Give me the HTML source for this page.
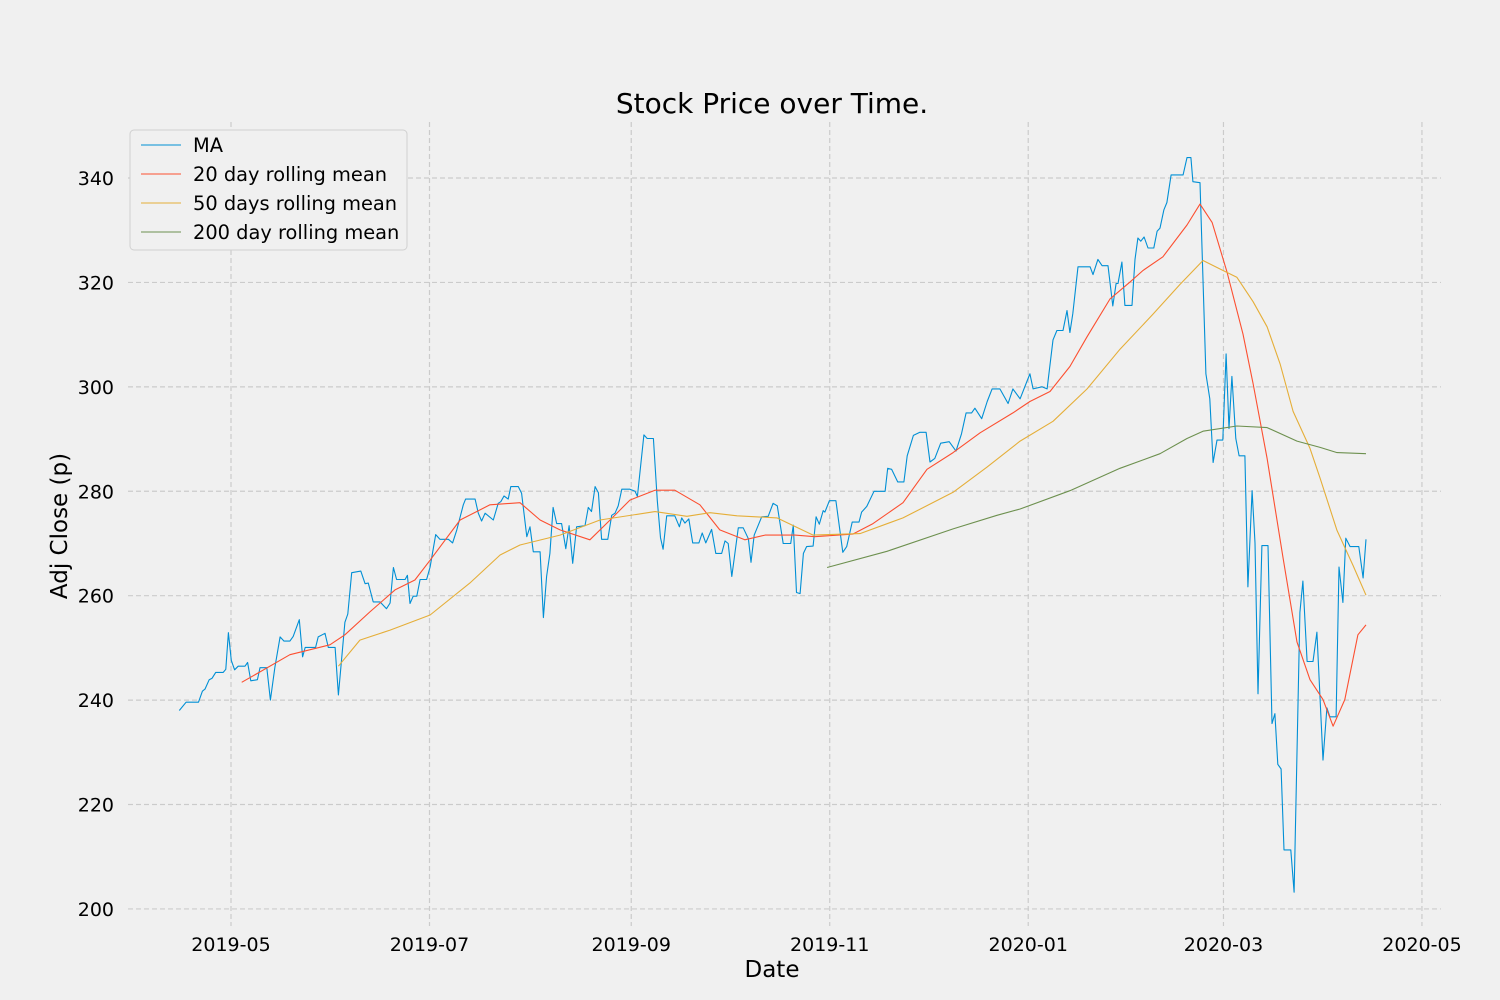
<!DOCTYPE html>
<html><head><meta charset="utf-8"><style>
html,body{margin:0;padding:0;background:#f0f0f0;}
svg{display:block;font-family:"DejaVu Sans","Liberation Sans",sans-serif;}
</style></head><body>
<svg id="chart" width="1500" height="1000" viewBox="0 0 1500 1000" xmlns="http://www.w3.org/2000/svg">
<rect width="1500" height="1000" fill="#f0f0f0"/>
<g id="grid"></g>
<g id="ticks"></g>
<g id="series"></g>
<text x="772" y="113" font-size="28" text-anchor="middle" fill="#000">Stock Price over Time.</text>
<text x="772" y="977" font-size="23" text-anchor="middle" fill="#000">Date</text>
<text x="67" y="526" font-size="23" text-anchor="middle" fill="#000" transform="rotate(-90 67 526)">Adj Close (p)</text>
<g>
<rect x="130" y="130" width="277" height="120" rx="4" fill="#f0f0f0" stroke="#d0d0d0"/>
<g><line x1="141" y1="145" x2="181" y2="145" stroke="#008fd5" stroke-width="1"/><text x="193" y="152" font-size="19.4">MA</text></g>
<g><line x1="141" y1="174" x2="181" y2="174" stroke="#fc4f30" stroke-width="1"/><text x="193" y="181" font-size="19.4">20 day rolling mean</text></g>
<g><line x1="141" y1="203" x2="181" y2="203" stroke="#e5ae38" stroke-width="1"/><text x="193" y="210" font-size="19.4">50 days rolling mean</text></g>
<g><line x1="141" y1="232" x2="181" y2="232" stroke="#6d904f" stroke-width="1"/><text x="193" y="239" font-size="19.4">200 day rolling mean</text></g>
</g>
</svg>
<script>
// days since 2019-05-01
const xTickLabels = ["2019-05","2019-07","2019-09","2019-11","2020-01","2020-03","2020-05"];
const xTickDays = [0,61,123,184,245,305,366];
const yTicks = [200,220,240,260,280,300,320,340];
const maDays = [-15.9,-13.8,-10.0,-8.8,-8.0,-6.7,-5.8,-4.7,-2.4,-1.6,-0.8,0.1,1.1,2.2,4.3,5.1,6.1,8.1,8.9,11.0,12.1,13.5,15.1,16.3,18.1,19.1,21.0,22.0,22.8,26.0,26.8,28.9,29.9,32.0,33.0,35.0,35.9,37.1,39.9,41.2,42.2,43.7,45.8,47.8,48.9,49.9,50.9,53.5,54.2,55.0,56.0,57.1,58.1,60.1,61.2,62.9,64.2,66.8,68.1,69.4,71.4,72.1,75.0,76.0,77.0,78.1,80.6,82.1,82.9,83.9,85.2,86.0,88.3,89.3,90.9,91.9,92.9,95.0,96.0,97.0,98.0,99.0,100.1,101.6,102.9,103.9,105.0,106.2,108.8,109.8,110.8,111.9,112.9,113.9,115.8,117.0,118.0,119.0,120.1,122.6,124.2,124.9,126.9,127.9,129.8,131.0,132.0,132.8,133.9,136.4,137.8,138.5,139.5,140.7,141.9,143.8,144.8,145.9,147.7,149.0,150.8,151.8,152.8,153.9,155.9,157.4,159.0,159.8,160.8,163.1,165.1,166.6,167.9,169.7,172.0,172.8,173.8,174.9,175.9,176.9,178.9,179.8,180.8,182.0,182.5,183.9,185.9,187.2,188.0,189.2,190.9,193.0,193.8,195.4,197.6,201.0,201.8,203.0,204.9,206.8,207.8,209.7,211.7,213.6,214.8,216.3,218.1,220.7,222.8,224.5,225.9,227.6,228.6,230.7,232.4,233.9,236.3,238.8,240.3,242.5,245.5,246.5,249.2,250.8,252.6,253.8,255.7,256.9,257.8,258.7,260.3,264.0,264.9,266.4,267.7,269.5,271.0,272.0,272.6,273.8,274.7,276.9,277.8,278.7,279.6,280.6,281.8,283.6,284.6,285.5,286.7,287.6,288.9,292.6,293.8,295.0,295.6,297.8,299.6,300.8,301.8,303.0,304.8,305.8,306.7,307.6,308.8,309.8,311.6,312.5,313.8,314.7,315.6,316.8,318.7,319.9,320.8,321.7,322.7,323.6,325.7,326.7,328.5,329.4,330.7,332.5,333.7,335.6,336.8,337.7,339.6,340.5,341.7,342.6,343.9,346.6,347.9,348.8];
const maValues = [238.0,239.6,239.6,241.7,242.1,243.9,244.2,245.3,245.3,245.9,252.9,247.6,245.8,246.5,246.5,247.2,243.7,243.9,246.2,246.2,240.0,246.3,252.1,251.3,251.3,252.2,255.4,248.3,250.1,250.1,252.1,252.8,250.1,250.1,241.0,254.9,256.5,264.4,264.7,262.3,262.4,258.8,258.8,257.5,258.6,265.4,263.1,263.1,263.9,258.5,259.9,259.9,263.1,263.1,265.5,271.7,270.8,270.8,270.1,272.6,277.4,278.5,278.5,275.8,274.3,275.8,274.5,277.7,278.0,279.1,278.5,280.9,280.9,279.6,271.3,273.2,268.4,268.4,255.8,263.7,268.1,276.9,273.8,273.8,269.0,273.4,266.2,273.2,273.4,276.9,276.1,280.9,279.7,270.8,270.8,275.4,275.8,277.2,280.4,280.4,280.0,279.0,290.8,290.1,290.1,278.2,271.1,268.9,275.3,275.3,273.2,274.9,273.9,274.7,270.1,270.1,272.0,270.1,272.7,268.1,268.1,270.5,270.0,263.7,273.0,273.0,270.9,266.4,271.6,275.1,275.2,277.7,277.2,270.0,270.0,273.5,260.6,260.4,268.1,269.4,269.5,275.1,273.7,276.3,276.0,278.2,278.2,272.2,268.3,269.4,274.1,274.1,276.0,277.1,280.0,280.0,284.4,284.2,281.8,281.8,286.8,290.7,291.3,291.3,285.6,286.3,289.2,289.5,287.7,291.0,295.0,295.0,295.9,293.9,297.2,299.6,299.6,296.8,299.6,297.7,302.5,299.6,300.0,299.6,309.0,310.8,310.8,314.6,310.4,314.0,323.0,323.0,321.5,324.4,323.2,323.2,315.5,319.8,319.8,323.9,315.6,315.6,324.4,328.5,327.9,328.7,326.6,326.6,329.8,330.4,333.9,335.3,340.6,340.6,343.9,343.9,339.3,339.1,302.5,297.7,285.5,289.8,289.8,306.3,292.0,302.0,290.1,286.8,286.8,261.7,280.1,270.1,241.2,269.6,269.6,235.5,237.4,227.7,226.8,211.3,211.3,203.2,256.8,262.8,247.4,247.4,253.0,228.5,238.5,236.8,236.8,265.5,258.7,271.0,269.4,269.4,263.4,270.8];
const r20Days = [3.3,8.9,18.1,30.4,35.0,42.7,50.4,56.5,61.2,70.4,79.6,88.8,95.0,101.1,110.3,116.5,122.6,130.3,136.4,144.1,150.2,157.9,164.1,173.3,179.4,191.1,197.3,206.5,213.9,221.9,230.2,240.3,245.5,251.7,257.8,263.1,270.1,276.3,280.3,286.4,293.8,297.8,301.5,306.1,311.0,314.1,318.4,323.3,327.6,331.6,335.6,338.7,342.3,346.3,348.8];
const r20Values = [243.4,245.4,248.7,250.6,252.5,256.9,261.1,263.0,266.8,274.5,277.4,277.8,274.5,272.6,270.7,274.5,278.3,280.2,280.2,277.4,272.6,270.7,271.6,271.6,271.3,271.8,273.8,277.8,284.2,287.4,291.2,295.0,297.2,299.1,303.9,309.6,316.8,320.1,322.3,324.9,331.0,335.0,331.5,322.0,310.1,300.6,286.3,267.3,251.1,243.9,240.1,235.0,240.1,252.5,254.4];
const r50Days = [33.0,39.6,48.9,61.2,73.4,82.7,88.8,101.1,113.4,130.3,140.1,147.2,155.5,167.8,178.9,193.3,206.5,221.9,232.3,242.5,252.6,263.1,273.2,283.3,291.6,298.7,304.8,309.1,314.1,318.4,322.4,326.4,331.6,334.7,339.9,344.8,348.8];
const r50Values = [246.5,251.5,253.4,256.3,262.4,267.8,269.7,271.6,274.5,276.1,275.2,275.9,275.3,274.9,271.6,271.9,274.9,279.8,284.6,289.6,293.4,299.6,307.2,313.9,319.6,324.2,322.3,321.0,316.3,311.5,304.4,295.3,288.2,282.5,272.5,265.8,260.1];
const r200Days = [183.2,201.6,221.9,235.4,242.5,257.8,273.2,285.5,293.8,298.7,309.1,318.4,327.6,334.7,339.9,348.8];
const r200Values = [265.4,268.5,272.8,275.4,276.6,280.1,284.4,287.2,290.1,291.5,292.5,292.2,289.6,288.4,287.4,287.2];

const X0 = 231, PXD = 3.254, Y0 = 178, PXV = 5.221;
function xs(d){ return X0 + d*PXD; }
function ys(v){ return Y0 + (340 - v)*PXV; }
const NS = "http://www.w3.org/2000/svg";
const grid = document.getElementById('grid');
const ticks = document.getElementById('ticks');
const series = document.getElementById('series');

yTicks.forEach(v=>{
  const l = document.createElementNS(NS,'line');
  l.setAttribute('x1',128); l.setAttribute('x2',1441);
  l.setAttribute('y1',ys(v)); l.setAttribute('y2',ys(v));
  l.setAttribute('stroke','#cbcbcb'); l.setAttribute('stroke-width','1.2'); l.setAttribute('stroke-dasharray','5,3');
  
  
  grid.appendChild(l);
  const t = document.createElementNS(NS,'text');
  t.setAttribute('x',114); t.setAttribute('y',ys(v)+7);
  t.setAttribute('text-anchor','end'); t.setAttribute('font-size','19');
  t.textContent = v;
  
  
  ticks.appendChild(t);
});
xTickDays.forEach((d,i)=>{
  const l = document.createElementNS(NS,'line');
  l.setAttribute('x1',xs(d)); l.setAttribute('x2',xs(d));
  l.setAttribute('y1',122); l.setAttribute('y2',926);
  l.setAttribute('stroke','#cbcbcb'); l.setAttribute('stroke-width','1.2'); l.setAttribute('stroke-dasharray','5,3');
  
  
  grid.appendChild(l);
  const t = document.createElementNS(NS,'text');
  t.setAttribute('x',xs(d)); t.setAttribute('y',951);
  t.setAttribute('text-anchor','middle'); t.setAttribute('font-size','19');
  t.textContent = xTickLabels[i];
  
  
  ticks.appendChild(t);
});
function line(days, vals, color, name){
  const p = document.createElementNS(NS,'polyline');
  p.setAttribute('points', days.map((d,i)=>xs(d).toFixed(1)+','+ys(vals[i]).toFixed(1)).join(' '));
  p.setAttribute('fill','none'); p.setAttribute('stroke',color); p.setAttribute('stroke-width','1.1');
  p.setAttribute('stroke-linejoin','round');
  
  
  series.appendChild(p);
}
line(maDays, maValues, '#008fd5', 'ma-line');
line(r20Days, r20Values, '#fc4f30', 'rolling-20-line');
line(r50Days, r50Values, '#e5ae38', 'rolling-50-line');
line(r200Days, r200Values, '#6d904f', 'rolling-200-line');
</script>
</body></html>
